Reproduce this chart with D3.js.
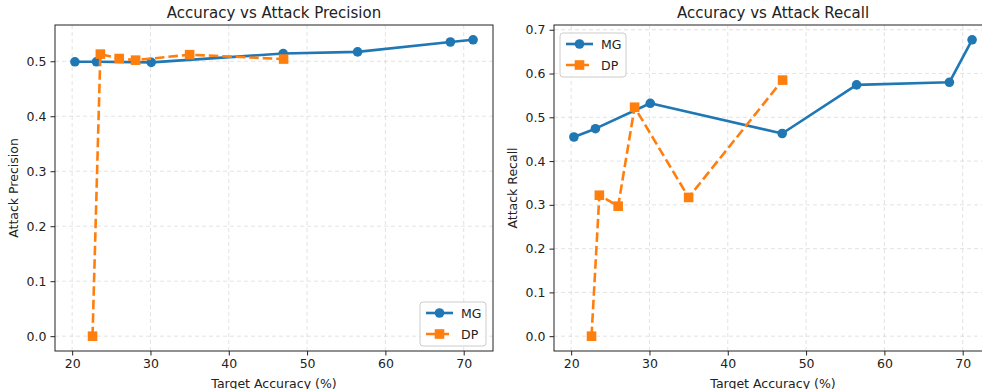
<!DOCTYPE html>
<html>
<head>
<meta charset="utf-8">
<script src="https://cdn.jsdelivr.net/npm/d3@7"></script>
<style>
    body { margin: 0; background: #fff; }
    svg text { font-family: "DejaVu Sans", sans-serif; fill: #222; }
    .grid line { stroke: #b0b0b0; stroke-opacity: 0.35; stroke-dasharray: 4 3; }
</style>
</head>
<body>
<svg id="chart" width="982" height="389"></svg>
<script>
// target accuracy (%) for each run
const mgAccuracy = [20.35, 23.1, 30.1, 46.95, 56.45, 68.3, 71.2];
const dpAccuracy = [22.6, 23.6, 26.0, 28.1, 35.0, 47.0];

// attack precision
const mgPrecision = [0.499, 0.499, 0.498, 0.514, 0.517, 0.535, 0.539];
const dpPrecision = [0.0, 0.513, 0.505, 0.502, 0.512, 0.504];

// attack recall
const mgRecall = [0.455, 0.474, 0.532, 0.463, 0.574, 0.580, 0.677];
const dpRecall = [0.0, 0.322, 0.297, 0.523, 0.317, 0.585];

const xTicks = [20, 30, 40, 50, 60, 70];
const precisionTicks = [0.0, 0.1, 0.2, 0.3, 0.4, 0.5];
const recallTicks = [0.0, 0.1, 0.2, 0.3, 0.4, 0.5, 0.6, 0.7];

const blue = '#1f77b4';
const orange = '#ff7f0e';

const svg = d3.select('#chart');

// matplotlib style 5% padding on the data range
function padded(values) {
    const lo = d3.min(values), hi = d3.max(values);
    const pad = (hi - lo) * 0.05;
    return [lo - pad, hi + pad];
}

function drawPanel(opts) {
    const { left, top, width, height } = opts;
    const g = svg.append('g').attr('transform', `translate(${left},${top})`);

    const x = d3.scaleLinear()
        .domain(padded(mgAccuracy.concat(dpAccuracy)))
        .range([0, width]);
    const y = d3.scaleLinear()
        .domain(padded(opts.mg.concat(opts.dp)))
        .range([height, 0]);

    // grid
    const grid = g.append('g').attr('class', 'grid');
    grid.selectAll('.vx').data(xTicks).enter().append('line')
        .attr('x1', d => x(d)).attr('x2', d => x(d))
        .attr('y1', 0).attr('y2', height);
    grid.selectAll('.hy').data(opts.yTicks).enter().append('line')
        .attr('x1', 0).attr('x2', width)
        .attr('y1', d => y(d)).attr('y2', d => y(d));

    // axes
    const xAxis = g.append('g')
        .attr('transform', `translate(0,${height})`)
        .call(d3.axisBottom(x).tickValues(xTicks).tickSize(4.5).tickPadding(4).tickSizeOuter(0));
    const yAxis = g.append('g')
        .call(d3.axisLeft(y).tickValues(opts.yTicks).tickFormat(d3.format('.1f')).tickSize(4.5).tickPadding(4).tickSizeOuter(0));
    [xAxis, yAxis].forEach(a => {
        a.select('.domain').remove();
        a.selectAll('text').style('font-size', '12.5px').attr('fill', '#222');
        a.selectAll('line').attr('stroke', '#222');
    });

    // spines
    g.append('rect')
        .attr('width', width).attr('height', height)
        .attr('fill', 'none').attr('stroke', '#222').attr('stroke-width', 1);

    const clip = 'clip' + left;
    g.append('clipPath').attr('id', clip).append('rect')
        .attr('x', -10).attr('y', -10).attr('width', width + 20).attr('height', height + 20);

    const plot = g.append('g').attr('clip-path', `url(#${clip})`);

    const mgPts = mgAccuracy.map((a, i) => [a, opts.mg[i]]);
    const dpPts = dpAccuracy.map((a, i) => [a, opts.dp[i]]);
    const line = d3.line().x(d => x(d[0])).y(d => y(d[1]));

    plot.append('path').datum(mgPts)
        .attr('d', line).attr('fill', 'none')
        .attr('stroke', blue).attr('stroke-width', 2.6).attr('stroke-linejoin', 'round');
    plot.selectAll('.mg').data(mgPts).enter().append('circle')
        .attr('cx', d => x(d[0])).attr('cy', d => y(d[1])).attr('r', 4.8)
        .attr('fill', blue);

    plot.append('path').datum(dpPts)
        .attr('d', line).attr('fill', 'none')
        .attr('stroke', orange).attr('stroke-width', 2.6)
        .attr('stroke-dasharray', '9.5 4');
    plot.selectAll('.dp').data(dpPts).enter().append('rect')
        .attr('x', d => x(d[0]) - 4.8).attr('y', d => y(d[1]) - 4.8)
        .attr('width', 9.6).attr('height', 9.6)
        .attr('fill', orange);

    // title and labels
    svg.append('text')
        .attr('x', left + opts.titleX).attr('y', top - 7)
        .attr('text-anchor', 'middle').style('font-size', '15px')
        .text(opts.title);
    svg.append('text')
        .attr('x', left + opts.titleX).attr('y', 388)
        .attr('text-anchor', 'middle').style('font-size', '12.5px')
        .text('Target Accuracy (%)');
    svg.append('text')
        .attr('transform', `translate(${opts.yLabelX},${top + height / 2}) rotate(-90)`)
        .attr('text-anchor', 'middle').style('font-size', '12.5px')
        .text(opts.yLabel);

    // legend
    const lg = g.append('g').attr('transform', `translate(${opts.legend[0]},${opts.legend[1]})`);
    lg.append('rect')
        .attr('width', 66).attr('height', 44).attr('rx', 3)
        .attr('fill', '#fff').attr('fill-opacity', 0.8)
        .attr('stroke', '#ccc');
    const entries = [
        { name: 'MG', color: blue, dash: null, shape: 'circle' },
        { name: 'DP', color: orange, dash: '9.5 4', shape: 'square' }
    ];
    entries.forEach((e, i) => {
        const cy = 11 + i * 21;
        lg.append('line')
            .attr('x1', 6).attr('x2', 33).attr('y1', cy).attr('y2', cy)
            .attr('stroke', e.color).attr('stroke-width', 2.6)
            .attr('stroke-dasharray', e.dash);
        if (e.shape === 'circle') {
            lg.append('circle').attr('cx', 19.5).attr('cy', cy).attr('r', 4.8).attr('fill', e.color);
        } else {
            lg.append('rect').attr('x', 14.7).attr('y', cy - 4.8)
                .attr('width', 9.6).attr('height', 9.6).attr('fill', e.color);
        }
        lg.append('text')
            .attr('x', 41).attr('y', cy + 4.5)
            .style('font-size', '12.5px')
            .text(e.name);
    });
}

drawPanel({
    left: 55, top: 25, width: 438, height: 326,
    mg: mgPrecision, dp: dpPrecision, yTicks: precisionTicks,
    title: 'Accuracy vs Attack Precision', yLabel: 'Attack Precision',
    titleX: 219, yLabelX: 18, legend: [365, 277]
});

drawPanel({
    left: 554, top: 25, width: 438, height: 326,
    mg: mgRecall, dp: dpRecall, yTicks: recallTicks,
    title: 'Accuracy vs Attack Recall', yLabel: 'Attack Recall',
    titleX: 219, yLabelX: 517, legend: [6, 8]
});
</script>
</body>
</html>
